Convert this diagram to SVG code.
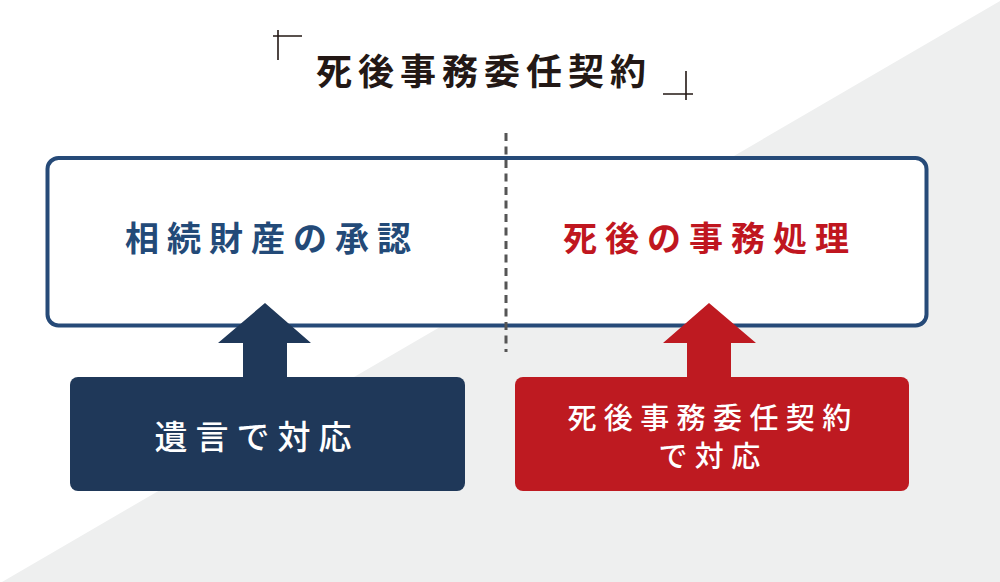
<svg xmlns="http://www.w3.org/2000/svg" width="1000" height="582" viewBox="0 0 1000 582">
<style>
.t{font-family:"Noto Sans CJK JP","Noto Sans CJK SC",sans-serif;text-anchor:middle;dominant-baseline:central}
.mark{stroke:#231815;stroke-width:1.6;fill:none}
</style>
<rect x="0" y="0" width="1000" height="582" fill="#ffffff"/>
<polygon points="1000,1 1000,582 2,582" fill="#eeefef"/>
<g id="title">
<path class="mark" d="M278,30V60M273,36H302"/>
<path class="mark" d="M686,71V100M663,94H693"/>
<text class="t" x="484" y="69" font-size="36" font-weight="700" letter-spacing="6" fill="#231815">死後事務委任契約</text>
</g>
<g id="main-box">
<rect x="47.5" y="158" width="879" height="167.5" rx="11" fill="#ffffff" stroke="#264a78" stroke-width="4"/>
<text class="t" x="272" y="236" font-size="34" font-weight="700" letter-spacing="8" fill="#234a78">相続財産の承認</text>
<text class="t" x="710" y="236" font-size="34" font-weight="700" letter-spacing="8" fill="#c0161f">死後の事務処理</text>
</g>
<g id="connectors">
<polygon points="265,303 311,343 287,343 287,380 243,380 243,343 218,343" fill="#1f3859"/>
<polygon points="709,303 756,343 731,343 731,380 687,380 687,343 663,343" fill="#be1a21"/>
</g>
<line id="divider" x1="506" y1="133" x2="506" y2="352" stroke="#555555" stroke-width="3" stroke-dasharray="8,5.5"/>
<g id="will-box">
<rect x="70" y="377" width="395" height="114" rx="8" fill="#1f3859"/>
<text class="t" x="257" y="435" font-size="33" font-weight="500" letter-spacing="8" fill="#ffffff">遺言で対応</text>
</g>
<g id="contract-box">
<rect x="515" y="377" width="394" height="114" rx="8" fill="#be1a21"/>
<text class="t" x="713" y="416" font-size="29" font-weight="500" letter-spacing="7.4" fill="#ffffff">死後事務委任契約</text>
<text class="t" x="713" y="454" font-size="29" font-weight="500" letter-spacing="7.4" fill="#ffffff">で対応</text>
</g>
</svg>
